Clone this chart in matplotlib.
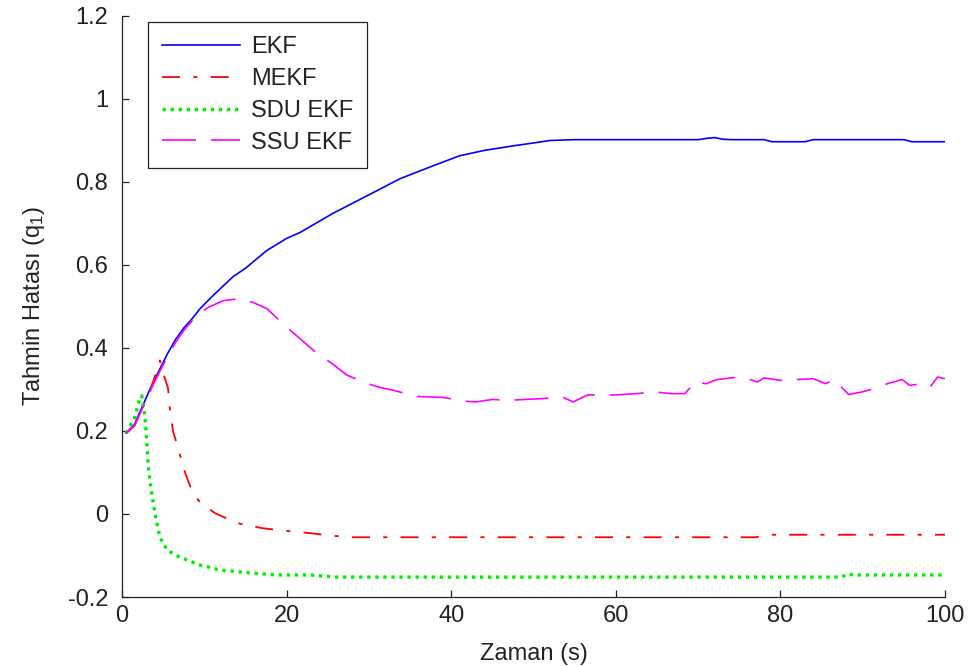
import matplotlib
matplotlib.use("Agg")
import matplotlib.pyplot as plt

# EKF estimate error
t_ekf = [0.5, 1.5, 2.5, 3.5, 4.5, 5.5, 6.5, 7.5, 8.5, 9.5, 11, 13.5, 15, 17.6, 20,
         21.6, 25.6, 29.8, 33.8, 37.8, 41, 44, 47.5, 50, 52, 55, 60, 65, 70, 71,
         72, 73, 74, 78, 79, 83, 84, 90, 95, 96, 100]
e_ekf = [0.195, 0.215, 0.26, 0.305, 0.345, 0.385, 0.42, 0.448, 0.47, 0.495, 0.525,
         0.572, 0.592, 0.635, 0.664, 0.678, 0.724, 0.767, 0.808, 0.839, 0.863, 0.876,
         0.887, 0.894, 0.9, 0.902, 0.902, 0.902, 0.902, 0.905, 0.907, 0.903, 0.902,
         0.902, 0.897, 0.897, 0.902, 0.902, 0.902, 0.897, 0.897]

# MEKF
t_mekf = [0.5, 1.5, 2.5, 3.5, 4.6, 5.0, 5.6, 5.8, 6.2, 6.8, 7.7, 8.6, 9.5, 11.3, 14,
          17, 19.6, 22.8, 25.3, 28, 40, 60, 77, 78.5, 80, 90, 100]
e_mekf = [0.195, 0.212, 0.255, 0.3, 0.37, 0.34, 0.303, 0.257, 0.2, 0.16, 0.098, 0.05,
          0.028, 0.002, -0.022, -0.034, -0.04, -0.046, -0.052, -0.056, -0.056, -0.056,
          -0.056, -0.05, -0.05, -0.05, -0.05]

# SDU EKF
t_sdu = [0.5, 1.5, 2.2, 2.4, 2.8, 3.0, 3.2, 3.5, 4.0, 4.6, 5.5, 7, 9.5, 11.9, 15.6,
         18.8, 22.8, 26, 40, 60, 87.5, 88, 89, 100]
e_sdu = [0.195, 0.23, 0.28, 0.285, 0.233, 0.178, 0.113, 0.065, 0.002, -0.056, -0.087,
         -0.104, -0.123, -0.135, -0.142, -0.147, -0.147, -0.152, -0.152, -0.152,
         -0.152, -0.145, -0.147, -0.147]

# SSU EKF
t_ssu = [0.5, 1.5, 2.5, 3.5, 4.5, 5.5, 6.5, 7.5, 8.5, 9.5, 10.5, 12.3, 14.3, 15.9,
         17.6, 19.8, 21.6, 23.7, 25.5, 27.3, 29.3, 31.3, 33, 34.5, 36, 39, 41.5, 43,
         45, 47, 49, 51, 53.5, 54.8, 56.6, 60, 62.5, 64.7, 66.8, 68.4, 69.6, 71, 72.3,
         74, 75.5, 77.2, 78, 80, 84, 85.5, 86.5, 88.3, 89.9, 91.4, 93, 94.8, 95.7,
         97.3, 98.2, 99.1, 100]
e_ssu = [0.195, 0.212, 0.255, 0.3, 0.34, 0.378, 0.413, 0.442, 0.465, 0.485, 0.498,
         0.514, 0.519, 0.51, 0.495, 0.454, 0.423, 0.387, 0.363, 0.335, 0.318, 0.305,
         0.298, 0.29, 0.283, 0.281, 0.272, 0.27, 0.276, 0.274, 0.276, 0.278, 0.282,
         0.27, 0.287, 0.287, 0.29, 0.294, 0.29, 0.29, 0.318, 0.314, 0.324, 0.328, 0.33,
         0.318, 0.328, 0.322, 0.326, 0.314, 0.324, 0.288, 0.294, 0.302, 0.314, 0.324,
         0.31, 0.314, 0.306, 0.33, 0.326]

x_ticks = [0, 20, 40, 60, 80, 100]
y_ticks = [-0.2, 0, 0.2, 0.4, 0.6, 0.8, 1.0, 1.2]
y_ticklabels = ["-0.2", "0", "0.2", "0.4", "0.6", "0.8", "1", "1.2"]

plt.rcParams["font.family"] = ["Liberation Sans", "DejaVu Sans"]
plt.rcParams["mathtext.fontset"] = "custom"
plt.rcParams["mathtext.rm"] = "Liberation Sans"
plt.rcParams["mathtext.default"] = "rm"
plt.rcParams["lines.scale_dashes"] = False

fig = plt.figure(figsize=(9.71, 6.66), dpi=100)
ax = fig.add_axes([0.1256, 0.1036, 0.8476, 0.8724])

ax.plot(t_ekf, e_ekf, color="#0000ff", lw=1.2, label="EKF")
ax.plot(t_mekf, e_mekf, color="#ff0000", lw=1.3, dashes=(13, 9.5, 3, 9.5), label="MEKF")
ax.plot(t_sdu, e_sdu, color="#00ee00", lw=2.4, dashes=(2.4, 3.4),
        dash_capstyle="butt", label="SDU EKF")
ax.plot(t_ssu, e_ssu, color="#ff00ff", lw=1.2, dashes=(24.5, 10.8), label="SSU EKF")

ax.set_xlim(0, 100)
ax.set_ylim(-0.2, 1.2)
ax.set_xticks(x_ticks)
ax.set_yticks(y_ticks)
ax.set_yticklabels(y_ticklabels)

for side in ["top", "right"]:
    ax.spines[side].set_visible(False)
for side in ["left", "bottom"]:
    ax.spines[side].set_linewidth(0.9)
    ax.spines[side].set_color("#222222")

ax.tick_params(axis="both", direction="in", length=5, width=0.9, color="#222222",
               labelsize=17, labelcolor="#222222")
ax.tick_params(axis="y", pad=10)
ax.tick_params(axis="x", pad=6)

ax.set_xlabel("Zaman (s)", fontsize=17, color="#222222", labelpad=11)
ax.set_ylabel("Tahmin Hatası (q$_{1}$)", fontsize=17, color="#222222", labelpad=15)

leg = ax.legend(loc="upper left", bbox_to_anchor=(0.0316, 0.99), borderaxespad=0,
                fontsize=17, handlelength=3.3, handletextpad=0.45, labelspacing=0.42,
                borderpad=0.6, fancybox=False, framealpha=1, edgecolor="#222222")
leg.get_frame().set_linewidth(0.9)
for txt in leg.get_texts():
    txt.set_color("#222222")

fig.savefig("out.png", dpi=100)
